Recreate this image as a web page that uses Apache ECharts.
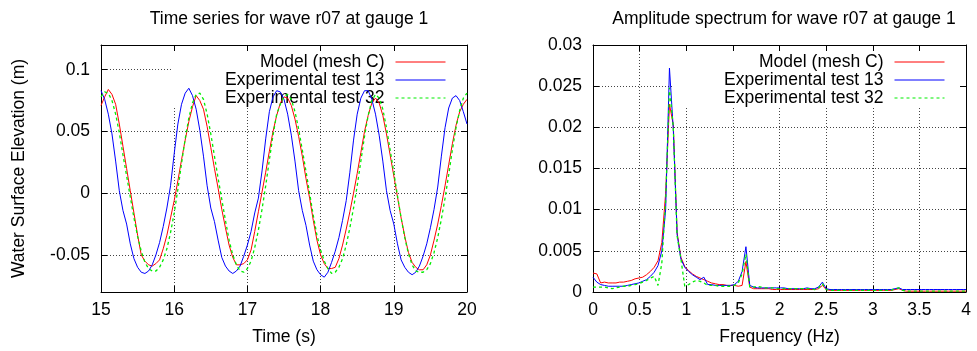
<!DOCTYPE html>
<html>
<head>
<meta charset="utf-8">
<title>Wave r07 at gauge 1</title>
<script src="https://cdn.jsdelivr.net/npm/echarts@6/dist/echarts.min.js"></script>
<style>
  html, body { margin: 0; padding: 0; background: #fff; }
  #chart { width: 977px; height: 351px; }
</style>
</head>
<body>
<div id="chart"></div>
<script>
// series names (same three in both panels)
const seriesNames = ['Model (mesh C)', 'Experimental test 13', 'Experimental test 32'];

// time series, sampled every 0.05 s
const times = [
  15.00, 15.05, 15.10, 15.15, 15.20, 15.25, 15.30, 15.35, 15.40, 15.45,
  15.50, 15.55, 15.60, 15.65, 15.70, 15.75, 15.80, 15.85, 15.90, 15.95,
  16.00, 16.05, 16.10, 16.15, 16.20, 16.25, 16.30, 16.35, 16.40, 16.45,
  16.50, 16.55, 16.60, 16.65, 16.70, 16.75, 16.80, 16.85, 16.90, 16.95,
  17.00, 17.05, 17.10, 17.15, 17.20, 17.25, 17.30, 17.35, 17.40, 17.45,
  17.50, 17.55, 17.60, 17.65, 17.70, 17.75, 17.80, 17.85, 17.90, 17.95,
  18.00, 18.05, 18.10, 18.15, 18.20, 18.25, 18.30, 18.35, 18.40, 18.45,
  18.50, 18.55, 18.60, 18.65, 18.70, 18.75, 18.80, 18.85, 18.90, 18.95,
  19.00, 19.05, 19.10, 19.15, 19.20, 19.25, 19.30, 19.35, 19.40, 19.45,
  19.50, 19.55, 19.60, 19.65, 19.70, 19.75, 19.80, 19.85, 19.90, 19.95,
  20.00
];
const elevModel = [
  0.071, 0.078, 0.084, 0.080, 0.072, 0.056, 0.038, 0.020, 0.002, -0.016,
  -0.034, -0.050, -0.055, -0.058, -0.059, -0.057, -0.054, -0.045, -0.034, -0.020,
  -0.006, 0.010, 0.027, 0.043, 0.058, 0.070, 0.079, 0.075, 0.068, 0.054,
  0.037, 0.020, 0.004, -0.013, -0.028, -0.042, -0.052, -0.058, -0.058, -0.057,
  -0.054, -0.046, -0.031, -0.015, 0.001, 0.017, 0.034, 0.050, 0.063, 0.073,
  0.078, 0.077, 0.071, 0.060, 0.046, 0.030, 0.012, -0.004, -0.022, -0.038,
  -0.050, -0.057, -0.061, -0.061, -0.060, -0.053, -0.042, -0.029, -0.015, 0.000,
  0.016, 0.033, 0.050, 0.063, 0.073, 0.077, 0.073, 0.063, 0.048, 0.031,
  0.014, -0.003, -0.020, -0.035, -0.048, -0.056, -0.060, -0.062, -0.062, -0.058,
  -0.050, -0.038, -0.025, -0.010, 0.006, 0.023, 0.040, 0.055, 0.066, 0.072,
  0.076
];
const elevTest13 = [
  0.083, 0.076, 0.064, 0.048, 0.026, 0.002, -0.014, -0.025, -0.041, -0.053,
  -0.060, -0.064, -0.065, -0.063, -0.058, -0.050, -0.040, -0.027, -0.012, 0.006,
  0.032, 0.056, 0.072, 0.081, 0.085, 0.079, 0.068, 0.051, 0.030, 0.006,
  -0.012, -0.023, -0.038, -0.052, -0.059, -0.063, -0.065, -0.063, -0.059, -0.051,
  -0.042, -0.031, -0.016, -0.004, 0.018, 0.044, 0.066, 0.078, 0.083, 0.082,
  0.076, 0.064, 0.047, 0.026, 0.002, -0.014, -0.026, -0.042, -0.055, -0.062,
  -0.066, -0.068, -0.064, -0.056, -0.047, -0.036, -0.022, -0.006, 0.017, 0.043,
  0.064, 0.077, 0.083, 0.083, 0.076, 0.064, 0.047, 0.026, 0.002, -0.014,
  -0.025, -0.041, -0.054, -0.060, -0.064, -0.066, -0.064, -0.059, -0.051, -0.041,
  -0.028, -0.013, 0.005, 0.030, 0.053, 0.069, 0.077, 0.079, 0.075, 0.066,
  0.056
];
const elevTest32 = [
  0.078, 0.082, 0.081, 0.075, 0.064, 0.049, 0.031, 0.014, -0.003, -0.020,
  -0.035, -0.047, -0.056, -0.061, -0.063, -0.063, -0.060, -0.054, -0.045, -0.032,
  -0.016, 0.003, 0.024, 0.044, 0.061, 0.073, 0.080, 0.081, 0.076, 0.064,
  0.048, 0.030, 0.012, -0.005, -0.022, -0.038, -0.050, -0.058, -0.063, -0.064,
  -0.061, -0.055, -0.044, -0.030, -0.013, 0.006, 0.027, 0.047, 0.064, 0.072,
  0.078, 0.080, 0.076, 0.066, 0.052, 0.035, 0.018, 0.000, -0.018, -0.034,
  -0.046, -0.055, -0.061, -0.065, -0.064, -0.060, -0.053, -0.042, -0.028, -0.012,
  0.006, 0.026, 0.046, 0.063, 0.075, 0.080, 0.077, 0.068, 0.053, 0.035,
  0.017, -0.002, -0.020, -0.036, -0.049, -0.058, -0.063, -0.064, -0.064, -0.062,
  -0.057, -0.048, -0.036, -0.021, -0.004, 0.015, 0.035, 0.053, 0.067, 0.077,
  0.081
];

// amplitude spectrum
const freqs = [
  0, 0.041, 0.082, 0.123, 0.164, 0.205, 0.246, 0.287, 0.328, 0.369,
  0.41, 0.451, 0.492, 0.533, 0.574, 0.615, 0.656, 0.697, 0.738, 0.779,
  0.82, 0.861, 0.902, 0.943, 0.984, 1.025, 1.066, 1.107, 1.148, 1.189,
  1.23, 1.271, 1.312, 1.353, 1.394, 1.435, 1.476, 1.517, 1.558, 1.599,
  1.64, 1.681, 1.722, 1.763, 1.804, 1.845, 1.886, 1.927, 1.968, 2.009,
  2.05, 2.091, 2.132, 2.173, 2.214, 2.255, 2.296, 2.337, 2.378, 2.419,
  2.46, 2.501, 2.542, 2.583, 2.624, 2.665, 2.706, 2.747, 2.788, 2.829,
  2.87, 2.911, 2.952, 2.993, 3.034, 3.075, 3.116, 3.157, 3.198, 3.239,
  3.28, 3.321, 3.362, 3.403, 3.444, 3.485, 3.526, 3.567, 3.608, 3.649,
  3.69, 3.731, 3.772, 3.813, 3.854, 3.895, 3.936, 3.977, 4.0
];
const ampModel = [
  0.0023, 0.0022, 0.0011, 0.0012, 0.0011, 0.0011, 0.0011, 0.0012, 0.0012, 0.0013,
  0.0014, 0.0016, 0.0017, 0.0018, 0.0021, 0.0025, 0.0030, 0.0038, 0.0060, 0.0120,
  0.0228, 0.0203, 0.0072, 0.0042, 0.0031, 0.0026, 0.0022, 0.0019, 0.0017, 0.0015,
  0.0013, 0.0011, 0.0010, 0.0009, 0.0009, 0.0008, 0.0008, 0.0008, 0.0007, 0.0008,
  0.0037, 0.0006, 0.0004, 0.0004, 0.0004, 0.0004, 0.0004, 0.0003, 0.0003, 0.0003,
  0.0003, 0.0003, 0.0003, 0.0003, 0.0003, 0.0003, 0.0003, 0.0003, 0.0003, 0.0004,
  0.0008, 0.0003, 0.0002, 0.0002, 0.0002, 0.0002, 0.0002, 0.0002, 0.0002, 0.0002,
  0.0002, 0.0002, 0.0002, 0.0002, 0.0002, 0.0002, 0.0002, 0.0002, 0.0002, 0.0003,
  0.0004, 0.0002, 0.0001, 0.0001, 0.0001, 0.0001, 0.0001, 0.0001, 0.0001, 0.0001,
  0.0001, 0.0001, 0.0001, 0.0001, 0.0001, 0.0001, 0.0001, 0.0001, 0.0001
];
const ampTest13 = [
  0.0018, 0.0012, 0.0009, 0.0008, 0.0007, 0.0007, 0.0007, 0.0007, 0.0007, 0.0008,
  0.0009, 0.0010, 0.0011, 0.0013, 0.0015, 0.0019, 0.0024, 0.0032, 0.0050, 0.0100,
  0.0272, 0.0198, 0.0070, 0.0040, 0.0030, 0.0025, 0.0021, 0.0018, 0.0015, 0.0018,
  0.0009, 0.0009, 0.0008, 0.0008, 0.0008, 0.0008, 0.0008, 0.0009, 0.0013, 0.0025,
  0.0055, 0.0008, 0.0006, 0.0005, 0.0005, 0.0005, 0.0005, 0.0005, 0.0005, 0.0005,
  0.0005, 0.0004, 0.0004, 0.0004, 0.0004, 0.0004, 0.0005, 0.0004, 0.0004, 0.0006,
  0.0012, 0.0004, 0.0003, 0.0003, 0.0003, 0.0003, 0.0003, 0.0003, 0.0003, 0.0003,
  0.0003, 0.0003, 0.0003, 0.0003, 0.0003, 0.0003, 0.0003, 0.0003, 0.0003, 0.0004,
  0.0005, 0.0003, 0.0003, 0.0003, 0.0003, 0.0003, 0.0003, 0.0003, 0.0003, 0.0003,
  0.0003, 0.0003, 0.0003, 0.0003, 0.0003, 0.0003, 0.0003, 0.0003, 0.0003
];
const ampTest32 = [
  0.0006, 0.0006, 0.0006, 0.0006, 0.0005, 0.0004, 0.0005, 0.0006, 0.0007, 0.0007,
  0.0008, 0.0009, 0.0010, 0.0012, 0.0014, 0.0017, 0.0019, 0.0008, 0.0035, 0.0110,
  0.0248, 0.0200, 0.0068, 0.0040, 0.0007, 0.0009, 0.0012, 0.0014, 0.0013, 0.0011,
  0.0008, 0.0008, 0.0008, 0.0007, 0.0007, 0.0007, 0.0007, 0.0008, 0.0011, 0.0022,
  0.0046, 0.0006, 0.0006, 0.0007, 0.0006, 0.0005, 0.0005, 0.0005, 0.0004, 0.0004,
  0.0004, 0.0004, 0.0004, 0.0004, 0.0004, 0.0004, 0.0004, 0.0004, 0.0003, 0.0005,
  0.0010, 0.0003, 0.0002, 0.0002, 0.0002, 0.0002, 0.0002, 0.0002, 0.0002, 0.0002,
  0.0002, 0.0002, 0.0002, 0.0002, 0.0002, 0.0002, 0.0002, 0.0002, 0.0002, 0.0004,
  0.0005, 0.0002, 0.0001, 0.0001, 0.0001, 0.0001, 0.0001, 0.0001, 0.0001, 0.0001,
  0.0001, 0.0001, 0.0001, 0.0001, 0.0001, 0.0001, 0.0001, 0.0001, 0.0001
];

const FONT = '"Liberation Sans", Arial, sans-serif';
const FS = 17.5;
const colors = ['#ff0000', '#0000ff', '#00ee00'];

function pairs(xs, ys) {
    return xs.map(function (x, i) { return [x, ys[i]]; });
}

// axis helpers
function mainAxis(gridIndex, pos, extra) {
    return Object.assign({
        type: 'value',
        gridIndex: gridIndex,
        position: pos,
        axisLine: { show: true, onZero: false, lineStyle: { color: '#000', width: 1 } },
        axisTick: { show: true, inside: true, length: 6, lineStyle: { color: '#000' } },
        axisLabel: { color: '#000', fontSize: FS, fontFamily: FONT },
        splitLine: { show: true, lineStyle: { color: '#444', width: 1, type: [1, 2] } },
        nameTextStyle: { color: '#000', fontSize: FS, fontFamily: FONT }
    }, extra);
}
function mirrorAxis(gridIndex, pos, extra) {
    return Object.assign({
        type: 'value',
        gridIndex: gridIndex,
        position: pos,
        z: 3,
        axisLine: { show: true, onZero: false, lineStyle: { color: '#000', width: 1 } },
        axisTick: { show: true, inside: true, length: 6, lineStyle: { color: '#000' } },
        axisLabel: { show: false },
        splitLine: { show: false }
    }, extra);
}
function legendAt(right) {
    return {
        orient: 'vertical',
        align: 'right',
        right: right,
        top: 45,
        z: 1,
        padding: [8, 20, 0, 52],
        backgroundColor: '#fff',
        itemWidth: 50,
        itemHeight: 10,
        itemGap: 0,
        // only the line sample, no marker
        itemStyle: { opacity: 0, borderWidth: 0 },
        lineStyle: { width: 1 },
        textStyle: { color: '#000', fontSize: FS, fontFamily: FONT, lineHeight: 17.5, padding: [0, 6, 0, 0] },
        data: seriesNames
    };
}
function lineSeries(idx, axisIdx, data) {
    return {
        name: seriesNames[idx],
        type: 'line',
        xAxisIndex: axisIdx,
        yAxisIndex: axisIdx,
        data: data,
        symbol: 'none',
        smooth: false,
        z: 2 + idx,
        lineStyle: {
            color: colors[idx],
            width: idx === 2 ? 1.3 : 1,
            type: idx === 2 ? [3, 3] : 'solid'
        },
        itemStyle: { color: colors[idx] }
    };
}

const chart = echarts.init(document.getElementById('chart'));

const option = {
    animation: false,
    backgroundColor: '#fff',
    textStyle: { fontFamily: FONT },
    title: [
        { text: 'Time series for wave r07 at gauge 1', left: 284, top: 5, textAlign: 'center',
          textStyle: { fontSize: FS, fontWeight: 'normal', color: '#000', fontFamily: FONT } },
        { text: 'Amplitude spectrum for wave r07 at gauge 1', left: 779, top: 5, textAlign: 'center',
          textStyle: { fontSize: FS, fontWeight: 'normal', color: '#000', fontFamily: FONT } }
    ],
    legend: [legendAt(511), legendAt(12)],
    grid: [
        { left: 101, top: 45, width: 366, height: 247 },
        { left: 593, top: 45, width: 373, height: 247 }
    ],
    xAxis: [
        mainAxis(0, 'bottom', { min: 15, max: 20, interval: 1, name: 'Time (s)',
            nameLocation: 'middle', nameGap: 36, axisLabel: { color: '#000', fontSize: FS, fontFamily: FONT, margin: 9 } }),
        mainAxis(1, 'bottom', { min: 0, max: 4, interval: 0.5, name: 'Frequency (Hz)',
            nameLocation: 'middle', nameGap: 36, axisLabel: { color: '#000', fontSize: FS, fontFamily: FONT, margin: 9 } }),
        mirrorAxis(0, 'top', { min: 15, max: 20, interval: 1 }),
        mirrorAxis(1, 'top', { min: 0, max: 4, interval: 0.5 })
    ],
    yAxis: [
        mainAxis(0, 'left', { min: -0.08, max: 0.12, splitNumber: 5, name: 'Water Surface Elevation (m)',
            nameLocation: 'middle', nameGap: 73, nameRotate: 90,
            axisLabel: { color: '#000', fontSize: FS, fontFamily: FONT, margin: 11, showMinLabel: false, showMaxLabel: false } }),
        mainAxis(1, 'left', { min: 0, max: 0.03, interval: 0.005,
            axisLabel: { color: '#000', fontSize: FS, fontFamily: FONT, margin: 11 } }),
        mirrorAxis(0, 'right', { min: -0.08, max: 0.12, splitNumber: 5 }),
        mirrorAxis(1, 'right', { min: 0, max: 0.03, interval: 0.005 })
    ],
    series: [
        lineSeries(0, 0, pairs(times, elevModel)),
        lineSeries(1, 0, pairs(times, elevTest13)),
        lineSeries(2, 0, pairs(times, elevTest32)),
        lineSeries(0, 1, pairs(freqs, ampModel)),
        lineSeries(1, 1, pairs(freqs, ampTest13)),
        lineSeries(2, 1, pairs(freqs, ampTest32))
    ]
};

chart.setOption(option);

window.addEventListener('resize', function () {
    chart.resize();
});
</script>
</body>
</html>
